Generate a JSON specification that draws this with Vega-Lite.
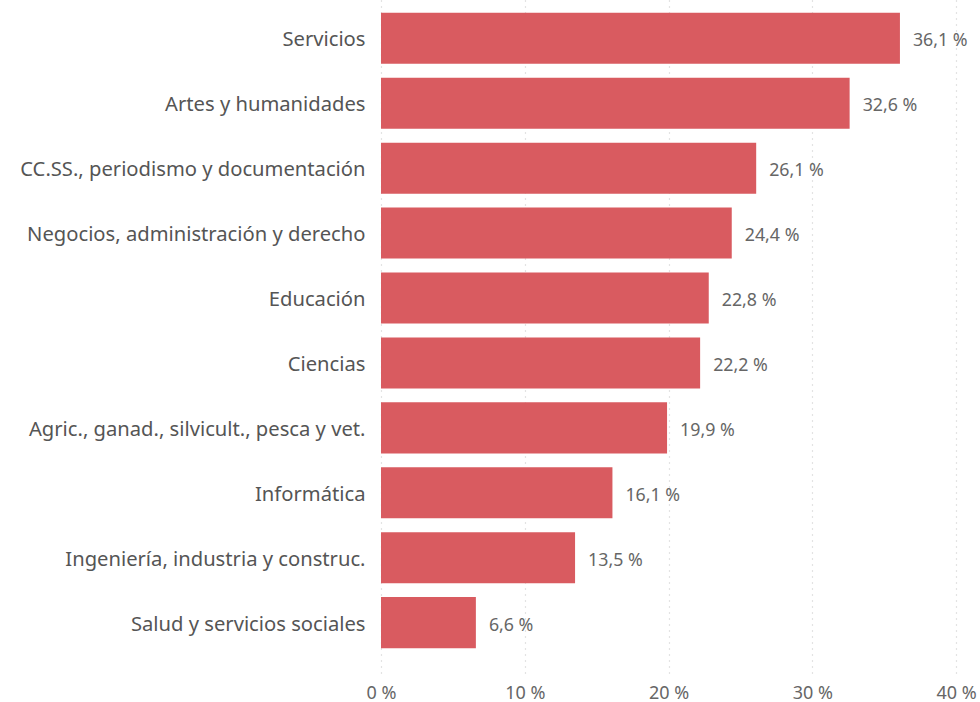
{
  "$schema": "https://vega.github.io/schema/vega-lite/v6.json",
  "autosize": "none",
  "width": 575,
  "height": 673,
  "padding": {"left": 381, "top": 0, "right": 24, "bottom": 29},
  "background": "white",
  "config": {
    "view": {"stroke": null},
    "font": "Noto Sans",
    "locale": {"number": {"decimal": ",", "thousands": ".", "grouping": [3], "currency": ["", " €"], "percent": " %"}}
  },
  "data": {
    "values": [
      {"area": "Servicios", "value": 0.361},
      {"area": "Artes y humanidades", "value": 0.326},
      {"area": "CC.SS., periodismo y documentación", "value": 0.261},
      {"area": "Negocios, administración y derecho", "value": 0.244},
      {"area": "Educación", "value": 0.228},
      {"area": "Ciencias", "value": 0.222},
      {"area": "Agric., ganad., silvicult., pesca y vet.", "value": 0.199},
      {"area": "Informática", "value": 0.161},
      {"area": "Ingeniería, industria y construc.", "value": 0.135},
      {"area": "Salud y servicios sociales", "value": 0.066}
    ]
  },
  "encoding": {
    "y": {
      "field": "area", "type": "nominal", "sort": null,
      "scale": {"paddingInner": 0.214, "paddingOuter": 0.29, "align": 0.34},
      "axis": {"title": null, "domain": false, "ticks": false, "labelPadding": 16, "labelOffset": 2, "labelFontSize": 20.2, "labelColor": "#555555", "labelLimit": 400}
    },
    "x": {
      "field": "value", "type": "quantitative",
      "scale": {"domain": [0, 0.4], "nice": false},
      "axis": {"title": null, "format": ".0%", "values": [0, 0.1, 0.2, 0.3, 0.4], "domain": false, "ticks": false, "grid": true, "gridColor": "#c8c8c8", "gridDash": [1, 5], "gridWidth": 1.2, "labelPadding": 11, "labelFontSize": 18, "labelColor": "#666666", "labelFlush": false}
    }
  },
  "layer": [
    {"mark": {"type": "bar", "color": "#D95B60"}},
    {
      "mark": {"type": "text", "align": "left", "dx": 13, "dy": 3, "fontSize": 17.8, "color": "#666666"},
      "encoding": {"text": {"field": "value", "type": "quantitative", "format": ".1%"}}
    }
  ]
}
